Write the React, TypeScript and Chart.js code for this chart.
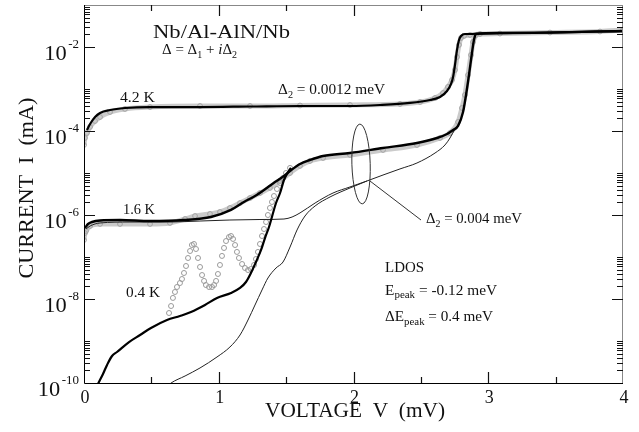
import React, { useEffect, useRef } from 'react';
import { Chart, registerables } from 'chart.js';

Chart.register(...registerables);

// ---------- axes ----------
const X_TICKS = [0, 1, 2, 3, 4];
const X_MINOR = [0.5, 1.5, 2.5, 3.5];
const Y_TICK_EXP = [-10, -8, -6, -4, -2];
const Y_MINOR_MULT = [2, 3, 4, 5, 6, 7, 8, 9, 10];
const X_TITLE = 'VOLTAGE  V  (mV)';
const Y_TITLE = 'CURRENT  I  (mA)';

// ---------- 4.2 K ----------
const V_FIT_42 = [0.022, 0.045, 0.082, 0.119, 0.193, 0.304, 0.490, 0.861, 1.232, 1.603, 1.974, 2.197, 2.419, 2.568, 2.642, 2.694, 2.724, 2.739, 2.753, 2.768, 2.783, 2.798, 2.827, 2.865, 2.939, 3.087, 3.458, 3.829, 4.0];
const I_FIT_42 = [1.06e-4, 1.47e-4, 2.15e-4, 2.69e-4, 3.16e-4, 3.53e-4, 3.72e-4, 3.72e-4, 3.83e-4, 3.94e-4, 3.94e-4, 4.16e-4, 4.65e-4, 5.47e-4, 6.46e-4, 8.95e-4, 1.32e-3, 1.93e-3, 3.72e-3, 8.49e-3, 1.47e-2, 1.83e-2, 2.04e-2, 2.04e-2, 2.09e-2, 2.15e-2, 2.21e-2, 2.34e-2, 2.40e-2];
const V_DAT_42 = [0, 0.007, 0.022, 0.045, 0.082, 0.119, 0.193, 0.304, 0.490, 0.861, 1.232, 1.603, 1.974, 2.345, 2.494, 2.605, 2.664, 2.701, 2.731, 2.753, 2.768, 2.783, 2.798, 2.820, 2.865, 2.939, 3.087, 3.458, 3.829, 4.0];
const I_DAT_42 = [4.65e-5, 6.81e-5, 8.95e-5, 1.25e-4, 1.73e-4, 2.15e-4, 2.83e-4, 3.34e-4, 3.72e-4, 3.94e-4, 3.94e-4, 4.05e-4, 4.16e-4, 4.40e-4, 4.90e-4, 6.11e-4, 8.03e-4, 1.12e-3, 1.64e-3, 2.83e-3, 5.78e-3, 1.12e-2, 1.64e-2, 1.83e-2, 1.93e-2, 2.04e-2, 2.09e-2, 2.21e-2, 2.34e-2, 2.54e-2];

// ---------- 1.6 K ----------
const V_FIT_16 = [0.007, 0.030, 0.059, 0.119, 0.267, 0.490, 0.742, 0.942, 1.091, 1.187, 1.269, 1.336, 1.417, 1.484, 1.529, 1.603, 1.677, 1.774, 1.974, 2.219, 2.471, 2.620, 2.694, 2.739, 2.776, 2.813, 2.835, 2.857, 2.879, 2.894, 2.909, 3.087, 4.0];
const I_FIT_16 = [4.90e-7, 6.11e-7, 6.81e-7, 7.40e-7, 7.60e-7, 7.19e-7, 7.60e-7, 8.95e-7, 1.32e-6, 2.04e-6, 2.83e-6, 3.94e-6, 6.11e-6, 8.49e-6, 1.12e-5, 1.64e-5, 2.04e-5, 2.54e-5, 2.99e-5, 3.94e-5, 5.18e-5, 6.81e-5, 8.49e-5, 1.06e-4, 1.32e-4, 2.83e-4, 7.19e-4, 2.15e-3, 7.19e-3, 1.47e-2, 2.04e-2, 2.15e-2, 2.40e-2];
const V_THIN_16 = [0.015, 0.045, 0.119, 0.341, 0.638, 0.861, 1.083, 1.306, 1.484, 1.544, 1.603, 1.715, 1.848, 1.974, 2.100, 2.219, 2.345, 2.471, 2.605, 2.679, 2.716, 2.753];
const I_THIN_16 = [4.64e-7, 5.47e-7, 6.46e-7, 6.81e-7, 6.81e-7, 7.19e-7, 7.60e-7, 7.81e-7, 8.03e-7, 8.95e-7, 1.12e-6, 1.93e-6, 3.34e-6, 4.65e-6, 6.46e-6, 8.95e-6, 1.25e-5, 1.73e-5, 2.99e-5, 4.65e-5, 6.81e-5, 1.12e-4];
const V_DAT_16 = [0, 0.007, 0.015, 0.045, 0.119, 0.267, 0.490, 0.638, 0.750, 0.824, 0.935, 1.009, 1.083, 1.158, 1.232, 1.306, 1.380, 1.455, 1.529, 1.603, 1.677, 1.774, 1.974, 2.219, 2.471, 2.642, 2.716, 2.776, 2.805, 2.827, 2.850, 2.872, 2.887, 2.909];
const I_DAT_16 = [2.54e-7, 3.72e-7, 4.16e-7, 5.47e-7, 6.11e-7, 6.11e-7, 6.11e-7, 6.46e-7, 8.03e-7, 9.46e-7, 1.06e-6, 1.18e-6, 1.47e-6, 1.93e-6, 2.54e-6, 3.34e-6, 4.40e-6, 6.46e-6, 1.0e-5, 1.47e-5, 1.93e-5, 2.28e-5, 2.69e-5, 3.53e-5, 4.65e-5, 6.81e-5, 8.95e-5, 1.64e-4, 3.53e-4, 7.19e-4, 2.15e-3, 6.46e-3, 1.32e-2, 1.93e-2];

// ---------- 0.4 K ----------
const V_FIT_04 = [0.096, 0.111, 0.141, 0.171, 0.208, 0.245, 0.334, 0.416, 0.497, 0.616, 0.712, 0.794, 0.898, 0.987, 1.091, 1.158, 1.202, 1.239, 1.276, 1.314, 1.343, 1.373, 1.425, 1.455, 1.484, 1.506, 1.536];
const I_FIT_04 = [8.49e-11, 1.06e-10, 1.64e-10, 2.69e-10, 4.40e-10, 5.47e-10, 9.46e-10, 1.39e-9, 2.04e-9, 3.16e-9, 3.94e-9, 4.90e-9, 7.19e-9, 1.06e-8, 1.39e-8, 1.83e-8, 2.54e-8, 4.16e-8, 7.60e-8, 1.47e-7, 2.83e-7, 5.18e-7, 1.93e-6, 3.34e-6, 6.81e-6, 9.46e-6, 1.32e-5];
const V_THIN_04 = [0.620, 0.646, 0.750, 0.861, 0.987, 1.083, 1.158, 1.217, 1.269, 1.321, 1.365, 1.425, 1.477, 1.529, 1.581, 1.640, 1.715, 1.826, 1.974, 2.100];
const I_THIN_04 = [8.5e-11, 1.0e-10, 1.47e-10, 2.28e-10, 4.16e-10, 7.19e-10, 1.39e-9, 3.16e-9, 7.19e-9, 1.64e-8, 3.16e-8, 5.47e-8, 7.60e-8, 1.73e-7, 4.40e-7, 9.46e-7, 1.64e-6, 2.69e-6, 4.40e-6, 6.46e-6];
const V_DAT_04 = [0.631, 0.646, 0.660, 0.675, 0.690, 0.712, 0.727, 0.742, 0.757, 0.772, 0.787, 0.801, 0.816, 0.831, 0.846, 0.861, 0.876, 0.891, 0.905, 0.928, 0.950, 0.965, 0.980, 0.994, 1.009, 1.024, 1.039, 1.054, 1.076, 1.091, 1.106, 1.121, 1.135, 1.150, 1.173, 1.195, 1.217, 1.239, 1.262, 1.276, 1.291, 1.306, 1.321, 1.336, 1.351, 1.365, 1.380, 1.395, 1.410, 1.432, 1.455, 1.477, 1.499, 1.529];
const I_DAT_04 = [4.64e-9, 6.81e-9, 1.06e-8, 1.47e-8, 1.93e-8, 2.40e-8, 2.99e-8, 4.16e-8, 6.11e-8, 9.46e-8, 1.39e-7, 1.93e-7, 2.04e-7, 1.55e-7, 9.46e-8, 5.78e-8, 3.72e-8, 2.69e-8, 2.15e-8, 1.93e-8, 1.93e-8, 2.15e-8, 2.69e-8, 3.94e-8, 6.46e-8, 1.06e-7, 1.64e-7, 2.40e-7, 2.99e-7, 3.16e-7, 2.69e-7, 1.93e-7, 1.32e-7, 9.46e-8, 6.81e-8, 5.47e-8, 4.90e-8, 5.18e-8, 6.46e-8, 8.95e-8, 1.32e-7, 2.04e-7, 3.16e-7, 4.64e-7, 6.81e-7, 1.0e-6, 1.47e-6, 2.04e-6, 2.83e-6, 4.16e-6, 5.78e-6, 7.60e-6, 1.0e-5, 1.32e-5];

const SERIF = "'Liberation Serif', 'DejaVu Serif', serif";

type Kind = 'n' | 's' | 'i';
type Part = [string, Kind];

function drawRich(ctx: CanvasRenderingContext2D, parts: Part[], x: number, yMid: number, size: number, targetW: number | null, align: 'left' | 'center' = 'left') {
  const font = (k: Kind) => (k === 's' ? `${Math.round(size * 0.68)}px ${SERIF}` : k === 'i' ? `italic ${size}px ${SERIF}` : `${size}px ${SERIF}`);
  const widths = parts.map(([t, k]) => { ctx.font = font(k); return ctx.measureText(t).width; });
  const total = widths.reduce((a, b) => a + b, 0);
  const sx = targetW ? targetW / total : 1;
  ctx.save();
  ctx.translate(x - (align === 'center' ? (total * sx) / 2 : 0), yMid);
  ctx.scale(sx, 1);
  ctx.textBaseline = 'alphabetic';
  ctx.textAlign = 'left';
  ctx.fillStyle = '#111';
  const base = size * 0.33;
  let cx = 0;
  parts.forEach(([t, k], i) => {
    ctx.font = font(k);
    ctx.fillText(t, cx, k === 's' ? base + size * 0.27 : base);
    cx += widths[i];
  });
  ctx.restore();
}

const pts = (V: number[], I: number[]) => V.map((x, i) => ({ x, y: I[i] }));

const decorPlugin = {
  id: 'decor',
  afterDatasetsDraw(chart: any) {
    const { ctx, chartArea: ca, scales } = chart;
    const xs = scales.x;
    const ys = scales.y;
    const px = (v: number) => xs.getPixelForValue(v);
    const py = (v: number) => ys.getPixelForValue(v);
    ctx.save();

    // ellipse + connector annotation
    const ex = px(2.056), ey = py(1.64e-5);
    const rx = px(2.056 + 0.068) - ex;
    const ry = py(1.64e-5) - py(1.64e-5 * Math.pow(10, 0.95));
    ctx.strokeStyle = '#333';
    ctx.lineWidth = 1;
    ctx.beginPath();
    ctx.ellipse(ex, ey, rx, ry, -0.03, 0, Math.PI * 2);
    ctx.stroke();
    ctx.beginPath();
    ctx.moveTo(px(2.122), py(6.46e-6));
    ctx.lineTo(px(2.501), py(7.6e-7));
    ctx.stroke();

    // frame
    ctx.lineWidth = 1;
    ctx.strokeStyle = '#888';
    ctx.beginPath();
    ctx.moveTo(ca.left, ca.top + 0.5); ctx.lineTo(ca.right, ca.top + 0.5);
    ctx.moveTo(ca.right - 0.5, ca.top); ctx.lineTo(ca.right - 0.5, ca.bottom);
    ctx.stroke();
    ctx.strokeStyle = '#000';
    ctx.beginPath();
    ctx.moveTo(ca.left + 0.5, ca.top); ctx.lineTo(ca.left + 0.5, ca.bottom + 0.5);
    ctx.lineTo(ca.right, ca.bottom + 0.5);
    ctx.stroke();

    // ticks
    ctx.strokeStyle = '#111';
    ctx.lineWidth = 1.2;
    const vtick = (x: number, len: number) => {
      ctx.beginPath();
      ctx.moveTo(x, ca.bottom); ctx.lineTo(x, ca.bottom - len);
      ctx.moveTo(x, ca.top); ctx.lineTo(x, ca.top + len);
      ctx.stroke();
    };
    const htick = (y: number, len: number) => {
      ctx.beginPath();
      ctx.moveTo(ca.left, y); ctx.lineTo(ca.left + len, y);
      ctx.moveTo(ca.right, y); ctx.lineTo(ca.right - len, y);
      ctx.stroke();
    };
    X_TICKS.forEach((v) => { if (v > 0 && v < 4) vtick(Math.round(px(v)) + 0.5, 11); });
    X_MINOR.forEach((v) => vtick(Math.round(px(v)) + 0.5, 6));
    Y_TICK_EXP.forEach((e) => {
      if (e > -10) htick(Math.round(py(Math.pow(10, e))) + 0.5, 11);
      Y_MINOR_MULT.forEach((m) => {
        const v = m * Math.pow(10, e);
        if (v < 0.1) htick(Math.round(py(v)) + 0.5, 6);
      });
    });

    // x tick labels
    X_TICKS.forEach((v) => drawRich(ctx, [[String(v), 'n']], px(v) + 1, 397, 18, null, 'center'));

    // y tick labels (10 with superscript exponent)
    Y_TICK_EXP.forEach((e) => {
      const y = py(Math.pow(10, e));
      const ex2 = `-${-e}`;
      ctx.font = `13px ${SERIF}`;
      const we = ctx.measureText(ex2).width;
      ctx.fillStyle = '#111';
      ctx.textAlign = 'right';
      ctx.textBaseline = 'alphabetic';
      ctx.fillText(ex2, 79, y + 1);
      ctx.save();
      ctx.translate(79 - we - 1.5, y + 12.5);
      ctx.scale(1.12, 1);
      ctx.font = `20px ${SERIF}`;
      ctx.fillText('10', 0, 0);
      ctx.restore();
    });

    // axis titles
    drawRich(ctx, [[X_TITLE, 'n']], 355, 410, 20, 180, 'center');
    ctx.save();
    ctx.translate(26, 188);
    ctx.rotate(-Math.PI / 2);
    drawRich(ctx, [[Y_TITLE, 'n']], 0, 0, 21, 181, 'center');
    ctx.restore();

    // annotations (anchored in data coordinates)
    drawRich(ctx, [['Nb/Al-AlN/Nb', 'n']], px(0.512), py(2.28e-2), 19, 137);
    drawRich(ctx, [['\u0394 = \u0394', 'n'], ['1', 's'], [' + ', 'n'], ['i', 'i'], ['\u0394', 'n'], ['2', 's']], px(0.579), py(8.9e-3), 15, 75);
    drawRich(ctx, [['4.2 K', 'n']], px(0.267), py(6.46e-4), 15, 35);
    drawRich(ctx, [['\u0394', 'n'], ['2', 's'], [' = 0.0012 meV', 'n']], px(1.440), py(1.0e-3), 15, 107);
    drawRich(ctx, [['1.6 K', 'n']], px(0.289), py(1.39e-6), 15, 32);
    drawRich(ctx, [['0.4 K', 'n']], px(0.312), py(1.47e-8), 15, 34);
    drawRich(ctx, [['\u0394', 'n'], ['2', 's'], [' = 0.004 meV', 'n']], px(2.538), py(8.3e-7), 15, 96);
    drawRich(ctx, [['LDOS', 'n']], px(2.234), py(5.78e-8), 14, 39);
    drawRich(ctx, [['E', 'n'], ['peak', 's'], [' = -0.12 meV', 'n']], px(2.234), py(1.64e-8), 14, 112);
    drawRich(ctx, [['\u0394E', 'n'], ['peak', 's'], [' = 0.4 meV', 'n']], px(2.234), py(3.9e-9), 14, 108);

    ctx.restore();
  },
};

export default function App() {
  const ref = useRef<HTMLCanvasElement>(null);
  useEffect(() => {
    const fit = (V: number[], I: number[], w: number, color: string) => ({
      data: pts(V, I),
      showLine: true,
      borderColor: color,
      borderWidth: w,
      pointRadius: 0,
      cubicInterpolationMode: 'monotone' as const,
    });
    const band = (V: number[], I: number[]) => ({
      data: pts(V, I),
      showLine: true,
      borderColor: '#cbcbcb',
      borderWidth: 5,
      pointRadius: 2.4,
      pointBorderColor: '#a3a3a3',
      pointBackgroundColor: 'rgba(255,255,255,0)',
      pointBorderWidth: 1,
      cubicInterpolationMode: 'monotone' as const,
    });
    const chart = new Chart(ref.current as HTMLCanvasElement, {
      type: 'scatter',
      data: {
        datasets: [
          fit(V_FIT_42, I_FIT_42, 2.2, '#000'),
          fit(V_FIT_16, I_FIT_16, 2.4, '#000'),
          fit(V_FIT_04, I_FIT_04, 2.2, '#000'),
          fit(V_THIN_16, I_THIN_16, 1, '#222'),
          fit(V_THIN_04, I_THIN_04, 1, '#222'),
          {
            data: pts(V_DAT_04, I_DAT_04),
            showLine: false,
            pointRadius: 2.5,
            pointBorderColor: '#9a9a9a',
            pointBackgroundColor: 'rgba(255,255,255,0)',
            pointBorderWidth: 1,
          },
          band(V_DAT_16, I_DAT_16),
          band(V_DAT_42, I_DAT_42),
        ] as any,
      },
      options: {
        responsive: false,
        animation: false,
        events: [],
        layout: { padding: { left: 84, right: 16, top: 5, bottom: 49 } },
        scales: {
          x: { type: 'linear', min: 0, max: 4, display: false },
          y: { type: 'logarithmic', min: 1e-10, max: 1e-1, display: false },
        },
        plugins: { legend: { display: false }, tooltip: { enabled: false } },
      },
      plugins: [decorPlugin],
    });
    return () => chart.destroy();
  }, []);
  return (
    <div style={{ position: 'absolute', left: 0, top: 0, width: 639, height: 432, background: '#fff' }}>
      <canvas ref={ref} width={639} height={432} style={{ display: 'block', width: 639, height: 432 }} />
    </div>
  );
}
